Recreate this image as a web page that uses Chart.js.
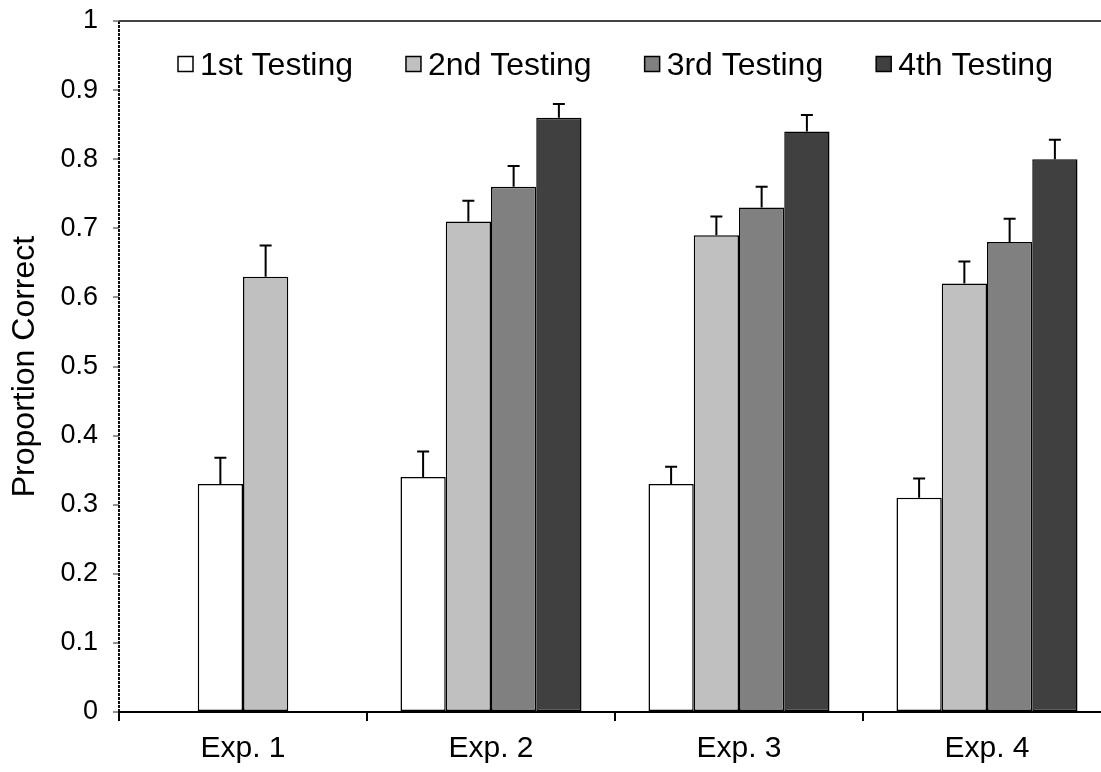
<!DOCTYPE html>
<html><head><meta charset="utf-8">
<script src="https://cdn.jsdelivr.net/npm/chart.js@4"></script>
<style>
html,body{margin:0;padding:0;background:#fff;overflow:hidden}
#wrap{width:1101px;height:772px;overflow:hidden;position:relative;background:#fff}
canvas{display:block}
</style></head>
<body><div id="wrap"><canvas id="c" width="1111" height="772"></canvas></div>
<script>
const categories = ['Exp. 1', 'Exp. 2', 'Exp. 3', 'Exp. 4'];
const seriesNames = ['1st Testing', '2nd Testing', '3rd Testing', '4th Testing'];
const first  = [0.33, 0.34, 0.33, 0.31];
const second = [0.63, 0.71, 0.69, 0.62];
const third  = [null, 0.76, 0.73, 0.68];
const fourth = [null, 0.86, 0.84, 0.80];
const firstErr  = [0.038, 0.037, 0.025, 0.028];
const secondErr = [0.045, 0.030, 0.027, 0.032];
const thirdErr  = [null, 0.030, 0.030, 0.034];
const fourthErr = [null, 0.020, 0.024, 0.028];
const yTickLabels = ['0', '0.1', '0.2', '0.3', '0.4', '0.5', '0.6', '0.7', '0.8', '0.9', '1'];
const yTitle = 'Proportion Correct';

const colors = ['#ffffff', '#c0c0c0', '#808080', '#404040'];
const FONT = '"Liberation Sans", Arial, Helvetica, sans-serif';
const series = [first, second, third, fourth];
const errs = [firstErr, secondErr, thirdErr, fourthErr];
const nSlots = series.length;

// Each dataset is a bar "slot" within a category group. In a category where some
// series are missing, the present series are centred in the group (as in the original).
const slotSeries = categories.map((c, i) => {
  const present = series.map((s, k) => k).filter(k => series[k][i] != null);
  const off = Math.floor((nSlots - present.length) / 2);
  const map = new Array(nSlots).fill(null);
  present.forEach((k, j) => { map[off + j] = k; });
  return map;
});

const datasets = [];
for (let j = 0; j < nSlots; j++) {
  const ks = categories.map((c, i) => slotSeries[i][j]);
  datasets.push({
    label: 'slot' + j,
    data: ks.map((k, i) => k == null ? null : series[k][i]),
    errors: ks.map((k, i) => k == null ? null : errs[k][i]),
    backgroundColor: ks.map(k => k == null ? 'rgba(0,0,0,0)' : colors[k]),
    borderColor: '#000',
    borderWidth: 1.5,
    borderSkipped: false,
    categoryPercentage: 0.73,
    barPercentage: 1
  });
}

const errorBars = {
  id: 'errorBars',
  afterDatasetsDraw(chart) {
    const ctx = chart.ctx, y = chart.scales.y;
    ctx.save();
    ctx.strokeStyle = '#000';
    ctx.lineWidth = 2;
    chart.data.datasets.forEach((ds, di) => {
      const meta = chart.getDatasetMeta(di);
      meta.data.forEach((el, i) => {
        const v = ds.data[i], e = ds.errors[i];
        if (v == null || e == null) return;
        const yb = y.getPixelForValue(v), yt = y.getPixelForValue(v + e);
        ctx.beginPath();
        ctx.moveTo(el.x, yb); ctx.lineTo(el.x, yt);
        ctx.moveTo(el.x - 6, yt); ctx.lineTo(el.x + 6, yt);
        ctx.stroke();
      });
    });
    ctx.restore();
  }
};

const innerLegend = {
  id: 'innerLegend',
  afterDraw(chart) {
    const ctx = chart.ctx, a = chart.chartArea;
    ctx.save();
    ctx.font = '32px ' + FONT;
    ctx.textBaseline = 'alphabetic';
    ctx.textAlign = 'left';
    let x = a.left + 59;
    const cy = a.top + 43;
    seriesNames.forEach((name, k) => {
      ctx.fillStyle = colors[k];
      ctx.fillRect(x, cy - 7.5, 15, 15);
      ctx.strokeStyle = '#000';
      ctx.lineWidth = 1.5;
      ctx.strokeRect(x, cy - 7.5, 15, 15);
      ctx.fillStyle = '#000';
      ctx.fillText(name, x + 22, cy + 11);
      x += 22 + ctx.measureText(name).width + 53;
    });
    ctx.restore();
  }
};

new Chart(document.getElementById('c'), {
  type: 'bar',
  data: { labels: categories, datasets },
  options: {
    responsive: false,
    animation: false,
    devicePixelRatio: 1,
    layout: { padding: { top: 21, right: 0, bottom: 0, left: 0 } },
    plugins: { legend: { display: false }, tooltip: { enabled: false } },
    scales: {
      x: {
        type: 'category',
        offset: true,
        afterFit(s) { s.height = 60; s.paddingLeft = 0; s.paddingRight = 0; },
        grid: {
          offset: true,
          drawOnChartArea: true,
          drawTicks: true,
          tickLength: 9,
          tickColor: '#000',
          tickWidth: 2,
          color: c => c.index === 0 ? '#111' : 'rgba(0,0,0,0)',
          lineWidth: c => c.index === 0 ? 2 : 0
        },
        border: { display: true, color: '#000', width: 2, dash: c => c.index === 0 ? [3, 1] : [] },
        ticks: { color: '#000', font: { family: FONT, size: 30 }, padding: 10, maxRotation: 0 }
      },
      y: {
        min: 0, max: 1,
        afterFit(s) { s.width = 119; s.paddingTop = 0; s.paddingBottom = 0; },
        afterBuildTicks(s) { s.ticks = yTickLabels.map((t, i) => ({ value: i / (yTickLabels.length - 1) })); },
        ticks: {
          color: '#000', font: { family: FONT, size: 27 }, padding: 15,
          callback: (v, i) => yTickLabels[i]
        },
        grid: {
          drawOnChartArea: true,
          color: c => (c.tick && c.tick.value === 1) ? '#444' : 'rgba(0,0,0,0)',
          lineWidth: 2,
          tickColor: '#222', tickLength: 6, tickWidth: 1
        },
        border: { display: false },
        title: { display: true, text: yTitle, color: '#000', font: { family: FONT, size: 32 }, padding: { top: 6, bottom: 0 } }
      }
    }
  },
  plugins: [errorBars, innerLegend]
});
</script>
</body></html>
